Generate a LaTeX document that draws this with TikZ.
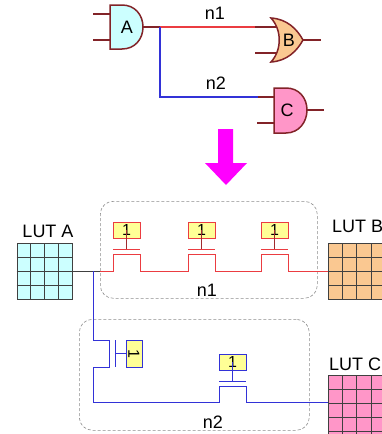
\documentclass[tikz,border=0pt]{standalone}
\usepackage{fontspec}
\setmainfont{Liberation Sans}
\usepackage{xcolor}
\definecolor{gatered}{RGB}{130,35,40}
\definecolor{netred}{RGB}{235,60,65}
\definecolor{netblue}{RGB}{50,50,215}
\definecolor{lutcyan}{RGB}{204,255,255}
\definecolor{lutorange}{RGB}{250,200,145}
\definecolor{lutpink}{RGB}{255,150,200}
\definecolor{cfgyellow}{RGB}{255,255,150}
\definecolor{mapmagenta}{RGB}{255,0,255}
\begin{document}
\begin{tikzpicture}[x=1pt,y=-1pt,
    gate/.style={draw=gatered,line width=1.5pt},
    pin/.style={draw=gatered,line width=1.2pt},
    label/.style={font=\fontsize{18}{20}\selectfont,inner sep=0pt},
    lutbox/.style={draw=black!75,line width=1pt,minimum width=55.6pt,minimum height=56pt,inner sep=0pt,anchor=north west},
    cfgbox/.style={draw,fill=cfgyellow,line width=1pt,minimum width=27pt,minimum height=16pt,inner sep=0pt,font=\fontsize{16}{16}\selectfont},
    grouping/.style={draw=black!45,densely dashed,line width=0.6pt,rounded corners=13pt}]
    \useasboundingbox (0,0) rectangle (382,434);
    \clip (0,0) rectangle (382,434);

    % gates
    \draw[gate,fill=lutcyan] (110,5) -- (122,5) .. controls (135,5) and (143,15) .. (143,27)
      .. controls (143,39) and (135,49) .. (122,49) -- (110,49) -- cycle;
    \draw[gate,fill=lutorange] (271,18) .. controls (287,19) and (297,29) .. (303,40)
      .. controls (297,51) and (287,61) .. (271,62) .. controls (282,50) and (282,30) .. (271,18) -- cycle;
    \draw[gate,fill=lutpink] (274,88) -- (286,88) .. controls (299,88) and (307,98) .. (307,110)
      .. controls (307,122) and (299,133) .. (286,133) -- (274,133) -- cycle;
    \node[label] (gateA) at (127,27) {A};
    \node[label] (gateB) at (289,40) {B};
    \node[label] (gateC) at (287,110) {C};

    \coordinate (Ain1) at (110,14);
    \coordinate (Ain2) at (110,40);
    \coordinate (Aout) at (143,27);
    \coordinate (Bin1) at (277,27);
    \coordinate (Bin2) at (276,53);
    \coordinate (Bout) at (303,40);
    \coordinate (Cin1) at (274,97);
    \coordinate (Cin2) at (274,123);
    \coordinate (Cout) at (307,110);
    \coordinate (fork) at (160,27);
    \coordinate (bend) at (160,97);
    \coordinate (Bwire) at (255,27);
    \coordinate (Cwire) at (258,97);

    \draw[pin] (Ain1) -- ++(-17,0);
    \draw[pin] (Ain2) -- ++(-17,0);
    \draw[pin] (Bin2) -- ++(-21,0);
    \draw[pin] (Bout) -- ++(18,0);
    \draw[pin] (Cin2) -- ++(-17,0);
    \draw[pin] (Cout) -- ++(17,0);
    \draw[pin] (Aout) -- (fork);
    \draw[pin] (Bwire) -- (Bin1);
    \draw[pin] (Cwire) -- (Cin1);
    \draw[netred,line width=1.2pt] (fork) -- (Bwire);
    \draw[netblue,line width=1.4pt] (fork) -- (bend) -- (Cwire);
    \node[label] (topn1) at (215,13) {n1};
    \node[label] (topn2) at (216,83) {n2};

    % mapping arrow
    \fill[mapmagenta] (218,129) -- (233,129) -- (233,163) -- (247,163) -- (226,185)
      -- (205,163) -- (218,163) -- cycle;

    % routing regions
    \node[grouping,minimum width=217pt,minimum height=97pt,anchor=north west,inner sep=0pt] (regionA) at (100,201) {};
    \node[grouping,minimum width=230pt,minimum height=111pt,anchor=north west,inner sep=0pt] (regionB) at (79,319) {};

    % LUTs
    \node[lutbox,fill=lutcyan] (lutA) at (16.7,243) {};
    \node[lutbox,fill=lutorange,minimum width=70pt] (lutB) at (328,243) {};
    \node[lutbox,fill=lutpink,minimum width=70pt,minimum height=70pt] (lutC) at (328,375) {};
    \foreach \i in {1,2,3} {
      \draw[black!75,line width=0.9pt] (16.7+13.9*\i,243) -- (16.7+13.9*\i,299);
      \draw[black!75,line width=0.9pt] (16.7,243+14*\i) -- (72.3,243+14*\i);
      \draw[black!75,line width=0.9pt] (328+14.4*\i,243) -- (328+14.4*\i,299);
      \draw[black!75,line width=0.9pt] (328,243+14*\i) -- (382,243+14*\i);
      \draw[black!75,line width=0.9pt] (328+14.4*\i,375) -- (328+14.4*\i,434);
      \draw[black!75,line width=0.9pt] (328,375+14*\i) -- (382,375+14*\i);
    }
    \draw[black!75,line width=0.9pt] (328,431) -- (382,431);
    \node[label] (labelA) at (48,231) {LUT A};
    \node[label,anchor=west] (labelB) at (332,226) {LUT B};
    \node[label,anchor=west] (labelC) at (329,364) {LUT C};

    % n1 wire
    \coordinate (outA) at (lutA.east |- 0,271);
    \coordinate (tap) at (93,271);
    \coordinate (enter) at (100,271);
    \coordinate (inB) at (328,271);
    \draw[black!75,line width=1pt] (outA) -- (enter);
    \draw[netred,line width=1pt] (enter) -- (113,271) -- (113,254) -- (140,254) -- (140,271)
      -- (188,271) -- (188,254) -- (215,254) -- (215,271)
      -- (261,271) -- (261,254) -- (288,254) -- (288,271) -- (inB);
    \foreach \x/\name in {113/cfgA,188/cfgB,261/cfgC} {
      \node[cfgbox,draw=netred] (\name) at (\x+13.5,230) {1};
      \coordinate (\name gate) at (\x+13.5,249);
      \draw[netred,line width=1pt] (\x,249) -- (\x+27,249);
      \draw[gatered!70!netred,line width=1pt] (\name gate) -- (\name.center);
    }
    \node[label] (bottomn1) at (207,290) {n1};

    % n2 wire
    \coordinate (inC) at (328,402);
    \draw[netblue,line width=0.9pt] (tap) -- (93,340) -- (109,340) -- (109,367) -- (93,367)
      -- (93,402) -- (219,402) -- (219,386) -- (246,386) -- (246,402) -- (inC);
    \node[cfgbox,draw=netblue,minimum width=16pt,minimum height=27pt] (cfgD) at (134,353.5)
      {\rotatebox{-90}{1}};
    \draw[netblue,line width=1pt] (115,340) -- (115,367);
    \draw[netblue,line width=1pt] (115,353.5) -- (cfgD.west);
    \node[cfgbox,draw=netblue] (cfgE) at (232.5,362) {1};
    \coordinate (cfgEgate) at (232.5,381);
    \draw[netblue,line width=1pt] (219,381) -- (246,381);
    \draw[netblue,line width=1pt] (cfgEgate) -- (cfgE.center);
    \node[label] (bottomn2) at (213,422) {n2};
\end{tikzpicture}
\end{document}
